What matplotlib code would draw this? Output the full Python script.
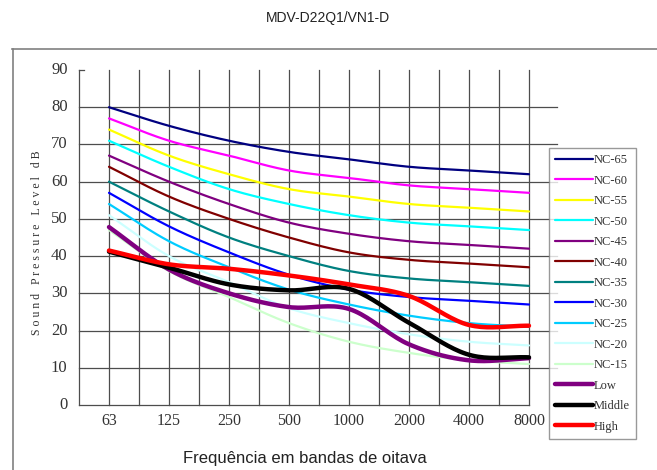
import numpy as np
import matplotlib
matplotlib.use("Agg")
import matplotlib.pyplot as plt
from matplotlib.lines import Line2D

freqs = ["63", "125", "250", "500", "1000", "2000", "4000", "8000"]

nc65 = [80, 75, 71, 68, 66, 64, 63, 62]
nc60 = [77, 71, 67, 63, 61, 59, 58, 57]
nc55 = [74, 67, 62, 58, 56, 54, 53, 52]
nc50 = [71, 64, 58, 54, 51, 49, 48, 47]
nc45 = [67, 60, 54, 49, 46, 44, 43, 42]
nc40 = [64, 56, 50, 45, 41, 39, 38, 37]
nc35 = [60, 52, 45, 40, 36, 34, 33, 32]
nc30 = [57, 48, 41, 35, 31, 29, 28, 27]
nc25 = [54, 44, 37, 31, 27, 24, 22, 21]
nc20 = [51, 40, 33, 26, 22, 19, 17, 16]
nc15 = [47, 36, 29, 22, 17, 14, 12, 11]
low = [47.8, 36.4, 30.0, 26.3, 25.8, 16.3, 12.0, 12.6]
middle = [41.2, 36.9, 32.4, 30.8, 31.2, 22.1, 13.5, 12.8]
high = [41.5, 37.8, 36.6, 34.8, 32.4, 29.3, 21.5, 21.3]

series = [
    ("NC-65", nc65, "#000080", 1.6),
    ("NC-60", nc60, "#FF00FF", 1.6),
    ("NC-55", nc55, "#FFFF00", 1.6),
    ("NC-50", nc50, "#00FFFF", 1.6),
    ("NC-45", nc45, "#800080", 1.6),
    ("NC-40", nc40, "#800000", 1.6),
    ("NC-35", nc35, "#008080", 1.6),
    ("NC-30", nc30, "#0000FF", 1.6),
    ("NC-25", nc25, "#00CCFF", 1.6),
    ("NC-20", nc20, "#CCFFFF", 1.6),
    ("NC-15", nc15, "#CCFFCC", 1.6),
    ("Low", low, "#800080", 3.2),
    ("Middle", middle, "#000000", 3.2),
    ("High", high, "#FF0000", 3.2),
]


def smooth(y, n=20):
    y = np.asarray(y, dtype=float)
    x = np.arange(len(y), dtype=float)
    px = np.concatenate([[2 * x[0] - x[1]], x, [2 * x[-1] - x[-2]]])
    py = np.concatenate([[2 * y[0] - y[1]], y, [2 * y[-1] - y[-2]]])
    xs, ys = [], []
    for i in range(1, len(px) - 2):
        t = np.linspace(0, 1, n, endpoint=False)
        for arr, out in ((px, xs), (py, ys)):
            p0, p1, p2, p3 = arr[i - 1], arr[i], arr[i + 1], arr[i + 2]
            out.extend(0.5 * ((2 * p1) + (-p0 + p2) * t
                              + (2 * p0 - 5 * p1 + 4 * p2 - p3) * t ** 2
                              + (-p0 + 3 * p1 - 3 * p2 + p3) * t ** 3))
    xs.append(x[-1]); ys.append(y[-1])
    return np.array(xs), np.array(ys)


W, H = 657, 470
fig = plt.figure(figsize=(W / 100, H / 100), dpi=100)
fig.patch.set_facecolor("white")

# outer frame
fig.add_artist(Line2D([12 / W, 1], [1 - 49 / H, 1 - 49 / H], color="#808080", lw=1.2))
fig.add_artist(Line2D([13 / W, 13 / W], [1 - 49 / H, 0], color="#808080", lw=1.2))

left, right, top, bottom = 79, 557, 70, 405
ax = fig.add_axes([left / W, 1 - bottom / H, (right - left) / W, (bottom - top) / H])
ax.set_xlim(-0.5, 7.467)
ax.set_ylim(0, 90)
for s in ax.spines.values():
    s.set_visible(False)
ax.set_xticks([])
ax.set_yticks([])

gc = "#4d4d4d"
for xv in np.arange(-0.5, 7.01, 0.5):
    ax.plot([xv, xv], [0, 90], color=gc, lw=0.9, zorder=1, clip_on=False)
for yv in range(10, 90, 10):
    ax.plot([-0.5, 7.467], [yv, yv], color=gc, lw=0.9, zorder=1, clip_on=False)
ax.plot([-0.5, 7.0], [0, 0], color=gc, lw=0.9, zorder=1, clip_on=False)
ax.plot([-0.5, -0.42], [90, 90], color=gc, lw=0.9, zorder=1, clip_on=False)

serif = ["Liberation Serif", "DejaVu Serif"]
for yv in range(0, 100, 10):
    ax.text(-0.69, yv, str(yv), ha="right", va="center", fontsize=12,
            family=serif, color="#333333")
for i, f in enumerate(freqs):
    ax.text(i, -4.3, f, ha="center", va="center", fontsize=11.5,
            family=serif, color="#333333")

handles = []
for name, vals, col, lw in series:
    xs, ys = smooth(vals)
    ln, = ax.plot(xs, ys, color=col, lw=lw, label=name, zorder=3,
                  solid_capstyle="round")
    handles.append(ln)

fig.text(37 / W, 1 - 243 / H, "S o u n d   P r e s s u r e   L e v e l   d B",
         rotation=90, ha="center", va="center", fontsize=8.5, family=serif,
         color="#333333")
fig.text(328 / W, 1 - 18 / H, "MDV-D22Q1/VN1-D", ha="center", va="center",
         fontsize=10, family=["Liberation Sans", "DejaVu Sans"], color="#222222")
fig.text(305 / W, 1 - 459 / H, "Frequência em bandas de oitava", ha="center",
         va="center", fontsize=12, family=["Liberation Sans", "DejaVu Sans"],
         color="#222222")

leg = fig.legend(handles=handles, loc="upper left",
                 bbox_to_anchor=(549 / W, 1 - 148 / H),
                 prop={"family": serif, "size": 9},
                 frameon=True, fancybox=False, edgecolor="#808080",
                 handlelength=3.0, handletextpad=0.05, labelspacing=0.68,
                 borderpad=0.5, borderaxespad=0)
leg.get_frame().set_linewidth(1.0)
for t in leg.get_texts():
    t.set_color("#333333")

fig.savefig("out.png", dpi=100, facecolor="white")
